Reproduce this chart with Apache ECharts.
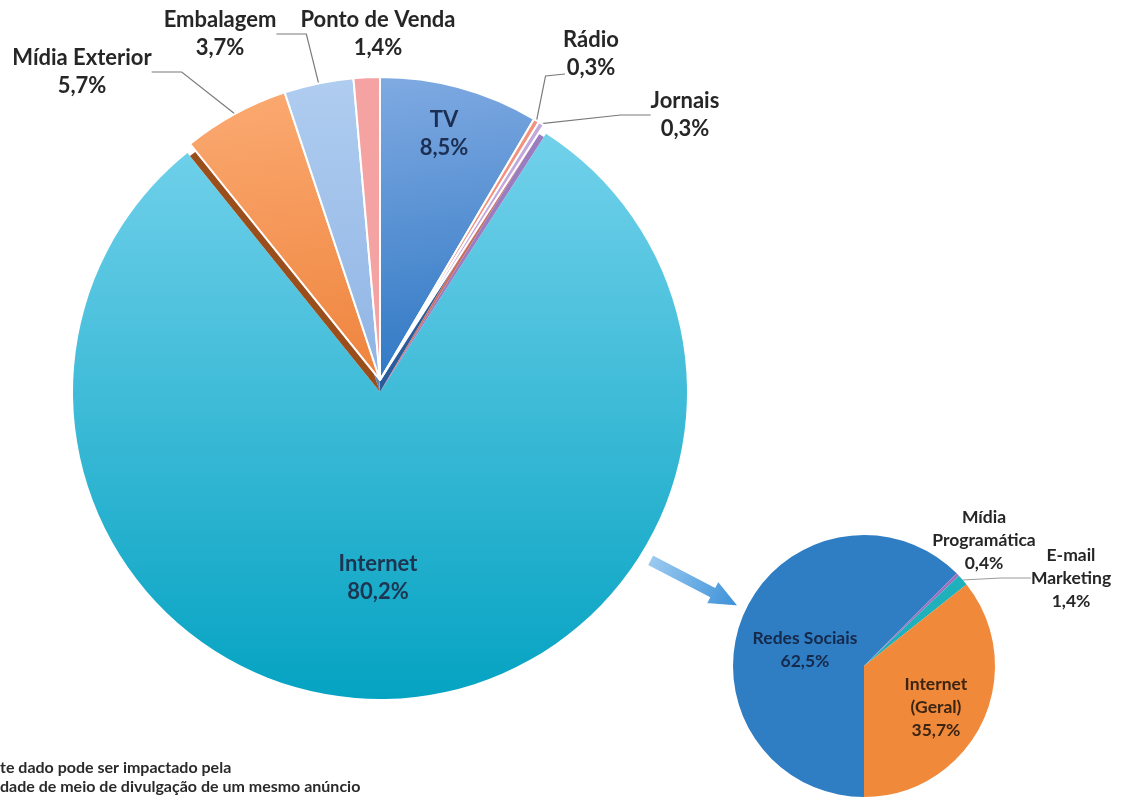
<!DOCTYPE html>
<html>
<head>
<meta charset="utf-8">
<script src="https://cdn.jsdelivr.net/npm/echarts@6/dist/echarts.min.js"></script>
<style>
html,body{margin:0;padding:0;background:#fff;}
#chart{width:1128px;height:802px;}
</style>
</head>
<body>
<div id="chart"></div>
<script>
// ---- data ----
const bigCategories = ['TV', 'Rádio', 'Jornais', 'Internet', 'Mídia Exterior', 'Embalagem', 'Ponto de Venda'];
const bigValues = [8.5, 0.3, 0.3, 80.2, 5.7, 3.7, 1.4];
const smallCategories = ['Redes Sociais', 'Mídia Programática', 'E-mail Marketing', 'Internet (Geral)'];
const smallLabels = ['Redes Sociais', 'Mídia\nProgramática', 'E-mail\nMarketing', 'Internet\n(Geral)'];
const smallValues = [62.5, 0.4, 1.4, 35.7];
const footnote = ['te dado pode ser impactado pela', 'dade de meio de divulgação de um mesmo anúncio'];

// ---- styles ----
const FONT = 'Lato';
const lg = (a, b, x2, y2) => ({type: 'linear', x: 0, y: 0, x2: x2, y2: y2, colorStops: [{offset: 0, color: a}, {offset: 1, color: b}]});
const bigColors = {
  'TV': lg('#80aae2', '#2f78c4', 0.3, 1),
  'Rádio': '#f2917e',
  'Jornais': '#c2a8dc',
  'Internet': lg('#72d1eb', '#05a3c2', 0, 1),
  'Mídia Exterior': lg('#fbaa72', '#ef8640', 0.2, 1),
  'Embalagem': lg('#b0cdf0', '#8fb4e4', 0, 1),
  'Ponto de Venda': '#f4a2a2'
};
const sideColors = {
  'TV': '#2a5c9c', 'Rádio': '#c9705f', 'Jornais': '#9a7cc0', 'Internet': 'rgba(0,0,0,0)',
  'Mídia Exterior': '#9a4e1c', 'Embalagem': '#5d7fae', 'Ponto de Venda': '#c27c7c'
};
const smallColors = ['#2f7dc3', '#9c72c0', '#1fb1bb', '#f0893a'];

const bigLabelPos = {
  'TV': [444, 134], 'Rádio': [591, 54], 'Jornais': [685, 115], 'Internet': [378, 578],
  'Mídia Exterior': [82, 72], 'Embalagem': [220, 34], 'Ponto de Venda': [378, 34]
};
const smallLabelPos = [[805, 650], [984, 540], [1071, 578], [936, 707]];
const pct = v => v.toFixed(1).replace('.', ',') + '%';
const TRANSPARENT = 'rgba(0,0,0,0)';

// base layer: the Internet slice (not pulled out)
const baseData = bigCategories.map((n, i) => {
  const on = n === 'Internet';
  return {
    name: n, value: bigValues[i],
    itemStyle: {color: on ? bigColors[n] : TRANSPARENT},
    label: {show: on, color: '#1d3550'},
    labelLine: {show: false}
  };
});
// side faces of the pulled-out media (pseudo 3D)
const sideData = bigCategories.map((n, i) => ({
  name: n, value: bigValues[i],
  itemStyle: {color: sideColors[n]},
  label: {show: false}, labelLine: {show: false}
}));
// pulled-out layer: the other media
const topData = bigCategories.map((n, i) => {
  const on = n !== 'Internet';
  return {
    name: n, value: bigValues[i],
    itemStyle: {color: on ? bigColors[n] : TRANSPARENT, borderColor: on ? '#fff' : TRANSPARENT, borderWidth: on ? 2 : 0},
    label: {show: on, color: n === 'TV' ? '#1c2f52' : '#262626'},
    labelLine: {show: on && n !== 'TV' && n !== 'Ponto de Venda'}
  };
});
const smallData = smallCategories.map((n, i) => ({
  name: n, value: smallValues[i],
  itemStyle: {color: smallColors[i]},
  label: {color: i === 0 ? '#15294a' : (i === 3 ? '#3b2412' : '#262626')},
  labelLine: {show: i === 2}
}));

const bigLabel = {
  show: true, overflow: 'none',
  fontFamily: FONT, fontWeight: 'bold', fontSize: 22, lineHeight: 28,
  formatter: p => p.name + '\n' + pct(p.value)
};
const bigLayout = function (p) {
  const name = bigCategories[p.dataIndex];
  const pos = bigLabelPos[name];
  const out = {x: pos[0], y: pos[1], align: 'center', verticalAlign: 'middle'};
  if (name === 'Rádio' && p.labelLinePoints) {
    const a = p.labelLinePoints[0];
    out.labelLinePoints = [a, [a[0] + 9, pos[1] + 22], [pos[0] - 26, pos[1] + 20]];
  }
  return out;
};

const chart = echarts.init(document.getElementById('chart'), null, {renderer: 'canvas'});
chart.setOption({
  backgroundColor: '#fff',
  animation: false,
  series: [
    {
      type: 'pie', center: [380, 392], radius: 307, startAngle: 90, clockwise: true,
      silent: true, data: baseData, label: bigLabel, labelLayout: bigLayout,
      emphasis: {disabled: true}
    },
    {
      type: 'pie', center: [380, 392], radius: 303, startAngle: 90, clockwise: true,
      silent: true, data: sideData, emphasis: {disabled: true}
    },
    {
      type: 'pie', center: [380, 380], radius: 303, startAngle: 90, clockwise: true,
      silent: true, data: topData, label: bigLabel, labelLayout: bigLayout,
      labelLine: {show: true, lineStyle: {color: '#7a7a7a', width: 1.2}, length: 20, length2: 30},
      emphasis: {disabled: true}
    },
    {
      type: 'pie', center: [864, 666], radius: 131, startAngle: -90, clockwise: true,
      silent: true, data: smallData,
      label: {
        show: true, overflow: 'none',
        fontFamily: FONT, fontWeight: 'bold', fontSize: 17.5, lineHeight: 23,
        formatter: p => smallLabels[p.dataIndex] + '\n' + pct(p.value)
      },
      labelLine: {show: true, lineStyle: {color: '#9a9a9a', width: 1}, length: 20, length2: 30},
      labelLayout: function (p) {
        const pos = smallLabelPos[p.dataIndex];
        return {x: pos[0], y: pos[1], align: 'center', verticalAlign: 'middle'};
      },
      emphasis: {disabled: true}
    }
  ],
  graphic: [
    {
      type: 'polygon', x: 650, y: 560, rotation: -0.48,
      shape: {points: [[0, -6], [70, -6], [70, -13], [100, 0], [70, 13], [70, 6], [0, 6]]},
      style: {fill: lg('#9ccbf0', '#3a8fd8', 1, 0), stroke: '#ffffff', lineWidth: 1.5}
    },
    {
      type: 'text', left: 0, top: 758,
      style: {text: footnote.join('\n'), fontFamily: FONT, fontWeight: 'bold', fontSize: 16, lineHeight: 19, fill: '#2a2a2a'}
    }
  ]
});
</script>
</body>
</html>
